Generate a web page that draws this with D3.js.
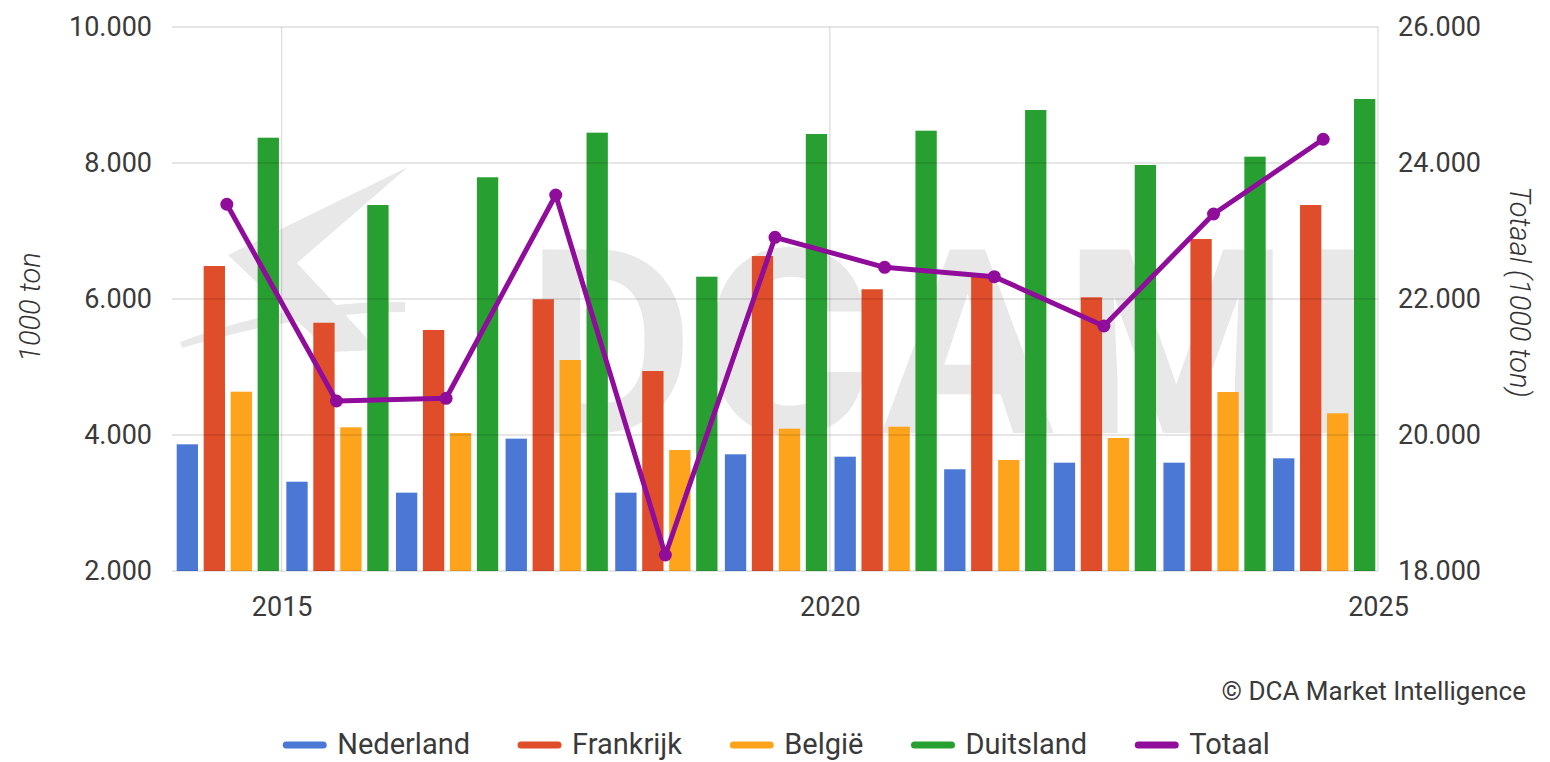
<!DOCTYPE html>
<html>
<head>
<meta charset="utf-8">
<script src="https://cdn.jsdelivr.net/npm/d3@7"></script>
<style>
  body { margin: 0; background: #fff; }
  svg { display: block; font-family: Roboto, "Noto Sans", sans-serif; }
</style>
</head>
<body>
<div id="chart"></div>
<script>
// data (1000 ton)
const years = [2014, 2015, 2016, 2017, 2018, 2019, 2020, 2021, 2022, 2023, 2024];
const nederland = [3863, 3313, 3152, 3946, 3152, 3716, 3681, 3496, 3593, 3593, 3657];
const frankrijk = [6485, 5651, 5544, 5996, 4941, 6632, 6143, 6328, 6025, 6882, 7382];
const belgie = [4637, 4113, 4029, 5103, 3779, 4093, 4122, 3632, 3956, 4632, 4319];
const duitsland = [8372, 7382, 7790, 8446, 6328, 8426, 8475, 8779, 7971, 8093, 8941];
const totaal = [23393, 20500, 20540, 23529, 18235, 22907, 22466, 22328, 21603, 23250, 24349];

const barSeries = ["Nederland", "Frankrijk", "België", "Duitsland"];
const leftTicks = [2000, 4000, 6000, 8000, 10000];
const rightTicks = [18000, 20000, 22000, 24000, 26000];
const xTicks = [2015, 2020, 2025];

const colors = {
  "Nederland": "#4a78d4",
  "Frankrijk": "#e04d2a",
  "België": "#fea31c",
  "Duitsland": "#289f31",
  "Totaal": "#900c9a"
};

const width = 1550, height = 762;
const plot = { left: 172, right: 1378, top: 27, bottom: 571 };

const svg = d3.select("#chart")
  .append("svg")
  .attr("width", width)
  .attr("height", height);

// scales
const x = d3.scaleLinear().domain([2014, 2025]).range([plot.left, plot.right]);
const yLeft = d3.scaleLinear().domain([2000, 10000]).range([plot.bottom, plot.top]);
const yRight = d3.scaleLinear().domain([18000, 26000]).range([plot.bottom, plot.top]);

const nl = d3.formatLocale({ decimal: ",", thousands: ".", grouping: [3], currency: ["€", ""] });
const fmt = nl.format(",");

// watermark (DCA MI logo, behind everything)
svg.append("clipPath").attr("id", "plotclip")
  .append("rect")
  .attr("x", plot.left).attr("y", plot.top)
  .attr("width", plot.right - plot.left).attr("height", plot.bottom - plot.top);

const wm = svg.append("g").attr("clip-path", "url(#plotclip)").attr("fill", "#e8e8e8");
wm.append("path")
  .attr("d", "M228,255 L408,167 L297,263 L378,350 L330,352 Z");
wm.append("path")
  .attr("d", "M180,342 Q290,300 405,302 L405,312 Q300,312 182,348 Z");
wm.append("text")
  .attr("x", 526)
  .attr("y", 433)
  .attr("font-size", 258)
  .attr("font-weight", 700)
  .attr("textLength", 848)
  .attr("lengthAdjust", "spacing")
  .text("DCAMI");

// bars
const table = years.map((yr, i) => ({
  year: yr,
  values: [nederland[i], frankrijk[i], belgie[i], duitsland[i]]
}));

const step = x(2015) - x(2014);
const inner = d3.scaleBand()
  .domain(barSeries)
  .range([2, step])
  .paddingInner(0.21)
  .paddingOuter(0.1);

const groups = svg.append("g")
  .selectAll("g")
  .data(table)
  .join("g")
  .attr("transform", d => `translate(${x(d.year)},0)`);

groups.selectAll("rect")
  .data(d => d.values.map((v, k) => ({ name: barSeries[k], value: v })))
  .join("rect")
  .attr("x", d => inner(d.name))
  .attr("width", inner.bandwidth())
  .attr("y", d => yLeft(d.value))
  .attr("height", d => yLeft(2000) - yLeft(d.value))
  .attr("fill", d => colors[d.name]);

// grid lines drawn over the bars, light
const grid = svg.append("g")
  .attr("stroke", "#000")
  .attr("stroke-opacity", 0.2)
  .attr("stroke-width", 1.2);

grid.selectAll(".hline")
  .data(leftTicks)
  .join("line")
  .attr("class", "hline")
  .attr("x1", plot.left).attr("x2", plot.right)
  .attr("y1", d => yLeft(d)).attr("y2", d => yLeft(d));

grid.selectAll(".vline")
  .data(xTicks)
  .join("line")
  .attr("class", "vline")
  .attr("x1", d => x(d)).attr("x2", d => x(d))
  .attr("y1", plot.top).attr("y2", plot.bottom)
  .attr("stroke-opacity", 0.14);

// totaal line
const line = d3.line()
  .x((d, i) => x(years[i] + 0.5))
  .y(d => yRight(d));

svg.append("path")
  .datum(totaal)
  .attr("fill", "none")
  .attr("stroke", colors["Totaal"])
  .attr("stroke-width", 5)
  .attr("stroke-linejoin", "round")
  .attr("d", line);

svg.append("g")
  .selectAll("circle")
  .data(totaal)
  .join("circle")
  .attr("cx", (d, i) => x(years[i] + 0.5))
  .attr("cy", d => yRight(d))
  .attr("r", 6.5)
  .attr("fill", colors["Totaal"]);

// axes
const axisLeft = d3.axisLeft(yLeft).tickValues(leftTicks).tickFormat(fmt).tickSize(0).tickPadding(20);
const axisRight = d3.axisRight(yRight).tickValues(rightTicks).tickFormat(fmt).tickSize(0).tickPadding(20);
const axisBottom = d3.axisBottom(x).tickValues(xTicks).tickFormat(d3.format("d")).tickSize(0).tickPadding(26);

function styleAxis(g) {
  g.select(".domain").remove();
  g.selectAll("text")
    .attr("font-family", "Roboto, sans-serif")
    .attr("font-size", 27)
    .attr("font-weight", 400)
    .attr("fill", "#3a3a3a");
}

svg.append("g")
  .attr("transform", `translate(${plot.left},0)`)
  .call(axisLeft)
  .call(styleAxis);

svg.append("g")
  .attr("transform", `translate(${plot.right},0)`)
  .call(axisRight)
  .call(styleAxis);

svg.append("g")
  .attr("transform", `translate(0,${plot.bottom})`)
  .call(axisBottom)
  .call(styleAxis);

// axis titles
svg.append("text")
  .attr("transform", "translate(40,307) rotate(-90)")
  .attr("text-anchor", "middle")
  .attr("font-size", 29)
  .attr("font-style", "italic")
  .attr("font-weight", 300)
  .attr("fill", "#333")
  .text("1000 ton");

svg.append("text")
  .attr("transform", "translate(1510,292) rotate(90)")
  .attr("text-anchor", "middle")
  .attr("font-size", 29)
  .attr("font-style", "italic")
  .attr("font-weight", 300)
  .attr("fill", "#333")
  .text("Totaal (1000 ton)");

// copyright
svg.append("text")
  .attr("x", 1526)
  .attr("y", 700)
  .attr("text-anchor", "end")
  .attr("font-size", 26)
  .attr("font-weight", 400)
  .attr("fill", "#3a3a3a")
  .text("© DCA Market Intelligence");

// legend
const legendNames = barSeries.concat(["Totaal"]);
const legend = svg.append("g");
const items = legend.selectAll("g")
  .data(legendNames)
  .join("g");

items.append("line")
  .attr("x1", 3).attr("x2", 40)
  .attr("y1", 745).attr("y2", 745)
  .attr("stroke", d => colors[d])
  .attr("stroke-width", 7)
  .attr("stroke-linecap", "round");

items.append("text")
  .attr("x", 54)
  .attr("y", 754)
  .attr("font-size", 29)
  .attr("font-weight", 400)
  .attr("fill", "#3a3a3a")
  .text(d => d);

let pos = 0;
items.each(function () {
  const w = this.getBBox().width;
  d3.select(this).attr("transform", `translate(${pos},0)`);
  pos += w + 51;
});
const total = pos - 51;
legend.attr("transform", `translate(${(width - total) / 2},0)`);
</script>
</body>
</html>
